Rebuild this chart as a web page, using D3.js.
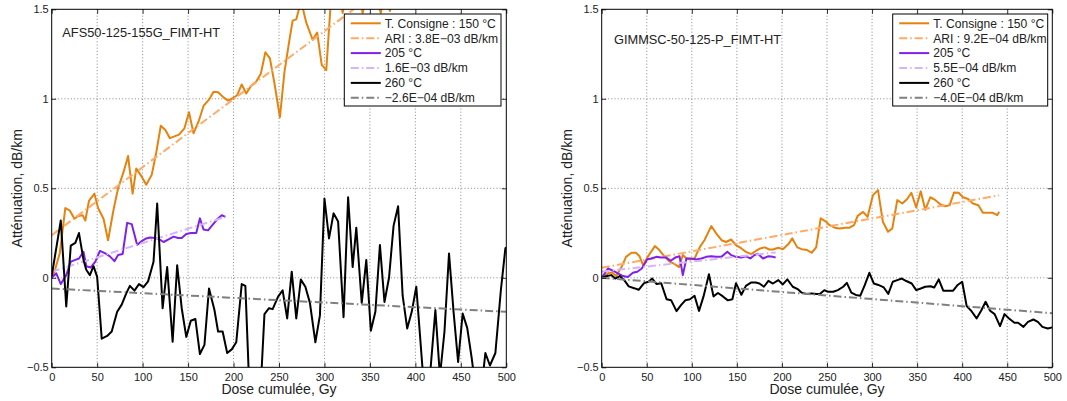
<!DOCTYPE html>
<html><head><meta charset="utf-8">
<script src="https://cdn.jsdelivr.net/npm/d3@7"></script>
<style>body{margin:0;background:#fff} text{font-family:"Liberation Sans",Arial,Helvetica,sans-serif}</style>
</head><body><svg id="c" width="1067" height="401"></svg>
<script>
// ---------- tick data ----------
const xTicks = [0,50,100,150,200,250,300,350,400,450,500];
const yTicks = [-0.5,0,0.5,1,1.5];
const yTickLabels = ["\u22120.5","0","0.5","1","1.5"];
const xLabel = "Dose cumulée, Gy";
const yLabel = "Atténuation, dB/km";

// ---------- left panel: AFS50-125-155G_FIMT-HT ----------
const leftTitle = "AFS50-125-155G_FIMT-HT";
const leftLegend = ["T. Consigne : 150 °C","ARI : 3.8E\u221203 dB/km","205 °C","1.6E\u221203 dB/km","260 °C","\u22122.6E\u221204 dB/km"];
const leftT150Dose = [0,4,9,15,20,25,29,34,37,41,47,51,57,62,68,73,79,84,89,93,99,104,110,115,120,125,130,135,140,146,151,156,162,167,173,178,183,189,194,199,204,209,214,219,225,230,235,240,245,251,256,261,265,269,273,276,280,287,292,297,302,308,314,320,325,330,336,342,347,352,357,362,367,372,377,381];
const leftT150Att = [0.0,0.05,0.14,0.39,0.375,0.33,0.345,0.35,0.32,0.43,0.47,0.39,0.33,0.21,0.38,0.5,0.59,0.68,0.47,0.61,0.565,0.52,0.575,0.70,0.85,0.826,0.78,0.79,0.80,0.835,0.925,0.807,0.88,0.96,0.995,1.04,1.036,1.008,0.99,1.003,1.02,1.08,1.03,1.07,1.096,1.14,1.26,1.226,1.087,0.897,1.15,1.314,1.437,1.444,1.52,1.51,1.425,1.33,1.37,1.19,1.16,1.62,1.7,1.48,1.6,1.7,1.65,1.48,1.58,1.6,1.56,1.48,1.62,1.49,1.65,1.7];
const leftT150FitDose = [0,381];
const leftT150FitAtt = [0.238,1.686];
const leftT205Dose = [0,5,10,16,21,26,30,35,38,43,48,53,59,64,69,73,78,83,88,94,99,104,108,114,118,123,129,134,139,143,148,153,159,163,167,172,176,182,187,191];
const leftT205Att = [0.0,0.025,-0.035,0.015,0.09,0.10,0.108,0.145,0.065,0.058,0.09,0.15,0.136,0.12,0.093,0.127,0.133,0.307,0.30,0.183,0.205,0.22,0.225,0.222,0.216,0.20,0.216,0.23,0.222,0.222,0.245,0.25,0.25,0.332,0.27,0.265,0.29,0.327,0.35,0.34];
const leftT205FitDose = [0,191];
const leftT205FitAtt = [0.034,0.34];
const leftT260Dose = [0,10,16,21,26,30,35,38,42,46,50,55,61,66,72,77,82,86,91,96,101,106,112,116,122,127,133,138,143,148,153,158,163,168,173,179,183,188,193,198,203,209,213,218,224,228,234,239,243,249,254,259,264,269,274,279,284,290,295,300,305,310,315,321,326,331,335,341,346,351,356,361,366,371,376,381,386,391,396,401,410,416,422,427,432,437,442,447,452,457,462,467,472,477,482,488,494,499,500];
const leftT260Att = [0.01,0.32,-0.16,0.18,0.195,0.25,0.10,0.045,0.015,0.065,0.005,-0.34,-0.325,-0.30,-0.19,-0.15,-0.087,-0.045,-0.072,-0.035,-0.052,-0.02,0.09,0.415,-0.17,0.06,-0.357,0.07,-0.17,-0.33,-0.24,-0.23,-0.426,-0.375,-0.06,-0.18,-0.30,-0.30,-0.42,-0.40,-0.36,-0.035,-0.045,-0.7,-0.75,-0.8,-0.203,-0.17,-0.175,-0.105,-0.07,-0.227,0.034,-0.227,-0.01,-0.05,-0.14,-0.36,-0.21,0.443,0.22,0.36,0.315,-0.22,0.45,0.06,0.28,-0.14,0.10,-0.296,-0.19,0.183,-0.135,0.0,0.29,0.40,-0.1,-0.283,-0.19,-0.05,-0.65,-0.55,-0.18,-0.55,-0.3,0.136,-0.19,-0.47,-0.2,-0.28,-0.45,-0.65,-0.65,-0.42,-0.49,-0.42,-0.07,0.165,0.17];
const leftT260FitDose = [0,500];
const leftT260FitAtt = [-0.06,-0.19];

// ---------- right panel: GIMMSC-50-125-P_FIMT-HT ----------
const rightTitle = "GIMMSC-50-125-P_FIMT-HT";
const rightLegend = ["T. Consigne : 150 °C","ARI : 9.2E\u221204 dB/km","205 °C","5.5E\u221204 dB/km","260 °C","\u22124.0E\u221204 dB/km"];
const rightT150Dose = [0,7,11.5,16,22,27,33,38,42,46,51,59,64,70,75.5,81,86,90,94,98.5,103,109,114,121.6,127,133,138,143.6,149,155,160,166,171,176,181,186,190,196,201,207,211.5,217,222,228,233,238,243,248,253,258.5,264,270,275,280,284,290,295,301,306.6,312,317.7,322.5,328,333.6,339,343.6,349,354,359,364.6,370,376,381,386,391,396,401,406.6,412,418,423,429,434,439,441];
const rightT150Att = [0.0,0.025,0.03,0.01,0.06,0.117,0.14,0.14,0.12,0.07,0.117,0.177,0.155,0.117,0.09,0.076,0.06,0.127,0.108,0.102,0.108,0.173,0.21,0.289,0.248,0.21,0.20,0.214,0.182,0.164,0.145,0.132,0.15,0.164,0.17,0.158,0.158,0.168,0.16,0.187,0.22,0.17,0.16,0.155,0.14,0.17,0.332,0.317,0.294,0.28,0.275,0.28,0.28,0.294,0.346,0.368,0.34,0.462,0.49,0.313,0.257,0.276,0.434,0.415,0.44,0.475,0.393,0.483,0.38,0.45,0.435,0.41,0.40,0.405,0.477,0.475,0.45,0.44,0.415,0.405,0.363,0.363,0.363,0.35,0.369];
const rightT150FitDose = [0,441];
const rightT150FitAtt = [0.056,0.461];
const rightT205Dose = [0,7,12.5,18,23.6,29,34.6,39.5,44.5,50.6,55,60.5,66,71.7,76.5,81.6,86.4,90,94,99.5,105,110.6,116,121.6,127,132.7,139.4,143.6,149,154.7,160,165,169.5,173.4,179,184.5,190,193];
const rightT205Att = [0.0,0.052,0.04,0.025,0.01,0.004,0.028,0.034,0.052,0.104,0.108,0.117,0.113,0.113,0.095,0.113,0.12,0.015,0.108,0.108,0.102,0.108,0.117,0.12,0.117,0.117,0.145,0.127,0.117,0.113,0.12,0.108,0.127,0.134,0.108,0.12,0.117,0.113];
const rightT205FitDose = [0,193];
const rightT205FitAtt = [0.035,0.142];
const rightT260Dose = [0,6,10.6,15,20,25,30,36,41,47,52,56,61,66,72,77,83,88,93,98,103,108,113,119,124,129,134.5,140,145,149,155,160,166,171,175,180,185,190,196,201,206,212,218,222,227,233,238,242,247,251,257,262,268,272,277,282,287,292,297,302,307,313,318,323,328,333,338,344,349,354,359,365,369,374,379,384,390,395,400,405,410,416,421,426,431,436,442,447,452,458,462,468,473,479,484,489,495,500];
const rightT260Att = [0.0,0.01,0.015,-0.004,0.01,-0.013,-0.048,-0.058,-0.067,-0.03,-0.022,-0.004,-0.035,-0.03,-0.12,-0.125,-0.186,-0.153,-0.125,-0.12,-0.1,-0.185,-0.104,0.02,-0.104,-0.085,-0.104,-0.126,-0.12,-0.03,-0.095,-0.045,-0.026,-0.026,-0.032,-0.05,-0.017,-0.032,-0.013,-0.037,-0.009,-0.05,-0.065,-0.083,-0.09,-0.087,-0.09,-0.09,-0.069,-0.078,-0.078,-0.069,-0.05,-0.028,-0.083,-0.096,-0.1,-0.04,0.028,-0.032,-0.04,-0.054,-0.09,-0.022,-0.013,-0.004,-0.018,-0.032,-0.069,-0.06,-0.05,-0.047,-0.054,-0.009,-0.072,-0.072,-0.072,-0.04,-0.022,-0.158,-0.184,-0.227,-0.184,-0.134,-0.184,-0.203,-0.27,-0.203,-0.227,-0.251,-0.251,-0.274,-0.246,-0.233,-0.246,-0.274,-0.283,-0.277];
const rightT260FitDose = [0,500];
const rightT260FitAtt = [0.0,-0.198];

// ---------- drawing ----------
const svg = d3.select("#c");
svg.append("rect").attr("width",1067).attr("height",401).attr("fill","#fff");
const defs = svg.append("defs");
const FONT = '"Liberation Sans",Arial,Helvetica,sans-serif';

const styles = [
  {color:"#e6820e", dash:null},
  {color:"#ffaa66", dash:"8,3,1.5,3"},
  {color:"#8020e8", dash:null},
  {color:"#d7b2ff", dash:"8,3,1.5,3"},
  {color:"#000000", dash:null},
  {color:"#808080", dash:"8,3,1.5,3"}
];

function drawPanel(P) {
  const x = d3.scaleLinear().domain([0,500]).range([P.left,P.right]);
  const y = d3.scaleLinear().domain([-0.5,1.5]).range([P.bottom,P.top]);
  const W = P.right-P.left, H = P.bottom-P.top;
  defs.append("clipPath").attr("id",P.id).append("rect")
    .attr("x",P.left).attr("y",P.top).attr("width",W).attr("height",H);
  const g = svg.append("g");

  // grid
  g.append("g").selectAll("line").data(xTicks.slice(1,-1)).join("line")
    .attr("x1",d=>x(d)).attr("x2",d=>x(d)).attr("y1",P.top).attr("y2",P.bottom)
    .attr("stroke","#555").attr("stroke-width",0.7).attr("stroke-dasharray","1,2.2");
  g.append("g").selectAll("line").data(yTicks.slice(1,-1)).join("line")
    .attr("y1",d=>y(d)).attr("y2",d=>y(d)).attr("x1",P.left).attr("x2",P.right)
    .attr("stroke","#555").attr("stroke-width",0.7).attr("stroke-dasharray","1,2.2");

  // series
  const line = d3.line().x(d=>x(d[0])).y(d=>y(d[1]));
  const sg = g.append("g").attr("clip-path",`url(#${P.id})`);
  P.series.forEach((s,i)=>{
    sg.append("path").datum(d3.zip(s[0],s[1])).attr("d",line)
      .attr("fill","none").attr("stroke",styles[i].color).attr("stroke-width",2)
      .attr("stroke-linejoin","round")
      .attr("stroke-dasharray",styles[i].dash);
  });

  // axes (ticks inside)
  const fmtY = d => yTickLabels[yTicks.indexOf(d)];
  const ax = [
    g.append("g").attr("transform",`translate(0,${P.bottom})`)
      .call(d3.axisBottom(x).tickValues(xTicks).tickSizeInner(-4.5).tickSizeOuter(0).tickPadding(5.5)),
    g.append("g").attr("transform",`translate(0,${P.top})`)
      .call(d3.axisTop(x).tickValues(xTicks).tickSizeInner(-4.5).tickSizeOuter(0).tickFormat("")),
    g.append("g").attr("transform",`translate(${P.left},0)`)
      .call(d3.axisLeft(y).tickValues(yTicks).tickSizeInner(-4.5).tickSizeOuter(0).tickPadding(3).tickFormat(fmtY)),
    g.append("g").attr("transform",`translate(${P.right},0)`)
      .call(d3.axisRight(y).tickValues(yTicks).tickSizeInner(-4.5).tickSizeOuter(0).tickFormat(""))
  ];
  ax.forEach(a=>{
    a.select(".domain").remove();
    a.attr("font-size",11).attr("font-family",FONT);
    a.selectAll("line").attr("stroke","#000").attr("stroke-width",0.8);
    a.selectAll("text").attr("fill","#222");
  });

  // box
  g.append("rect").attr("x",P.left).attr("y",P.top).attr("width",W).attr("height",H)
    .attr("fill","none").attr("stroke","#000").attr("stroke-width",1);

  // axis labels
  g.append("text").attr("x",(P.left+P.right)/2).attr("y",394).attr("text-anchor","middle")
    .attr("font-size",14).attr("fill","#222").text(xLabel);
  g.append("text").attr("transform",`translate(${P.yLabelX},${(P.top+P.bottom)/2}) rotate(-90)`)
    .attr("text-anchor","middle").attr("font-size",14).attr("fill","#222").text(yLabel);

  // title annotation
  g.append("text").attr("x",P.titleX).attr("y",P.titleY).attr("font-size",12.8).attr("fill","#222").text(P.title);

  // legend
  const L = P.legend;
  const lg = g.append("g");
  lg.append("rect").attr("x",L.x).attr("y",L.y).attr("width",L.w).attr("height",L.h)
    .attr("fill","#fff").attr("stroke","#000").attr("stroke-width",1);
  P.legendLabels.forEach((t,i)=>{
    const cy = L.y + 9.3 + i*14.9;
    lg.append("line").attr("x1",L.x+6.5).attr("x2",L.x+36.5).attr("y1",cy).attr("y2",cy)
      .attr("stroke",styles[i].color).attr("stroke-width",2).attr("stroke-dasharray",styles[i].dash);
    lg.append("text").attr("x",L.x+40.5).attr("y",cy).attr("dy","0.36em")
      .attr("font-size",12.1).attr("fill","#222").text(t);
  });
}

drawPanel({
  id:"clipL", left:51.7, right:506.3, top:9.3, bottom:367.3, yLabelX:21.5,
  title:leftTitle, titleX:62.3, titleY:37.3,
  legend:{x:344.3, y:14, w:156.7, h:92}, legendLabels:leftLegend,
  series:[[leftT150Dose,leftT150Att],[leftT150FitDose,leftT150FitAtt],[leftT205Dose,leftT205Att],[leftT205FitDose,leftT205FitAtt],[leftT260Dose,leftT260Att],[leftT260FitDose,leftT260FitAtt]]
});
drawPanel({
  id:"clipR", left:601.7, right:1052.3, top:9.3, bottom:367.3, yLabelX:572,
  title:rightTitle, titleX:614, titleY:44.3,
  legend:{x:892.7, y:14, w:155, h:92}, legendLabels:rightLegend,
  series:[[rightT150Dose,rightT150Att],[rightT150FitDose,rightT150FitAtt],[rightT205Dose,rightT205Att],[rightT205FitDose,rightT205FitAtt],[rightT260Dose,rightT260Att],[rightT260FitDose,rightT260FitAtt]]
});
</script></body></html>
